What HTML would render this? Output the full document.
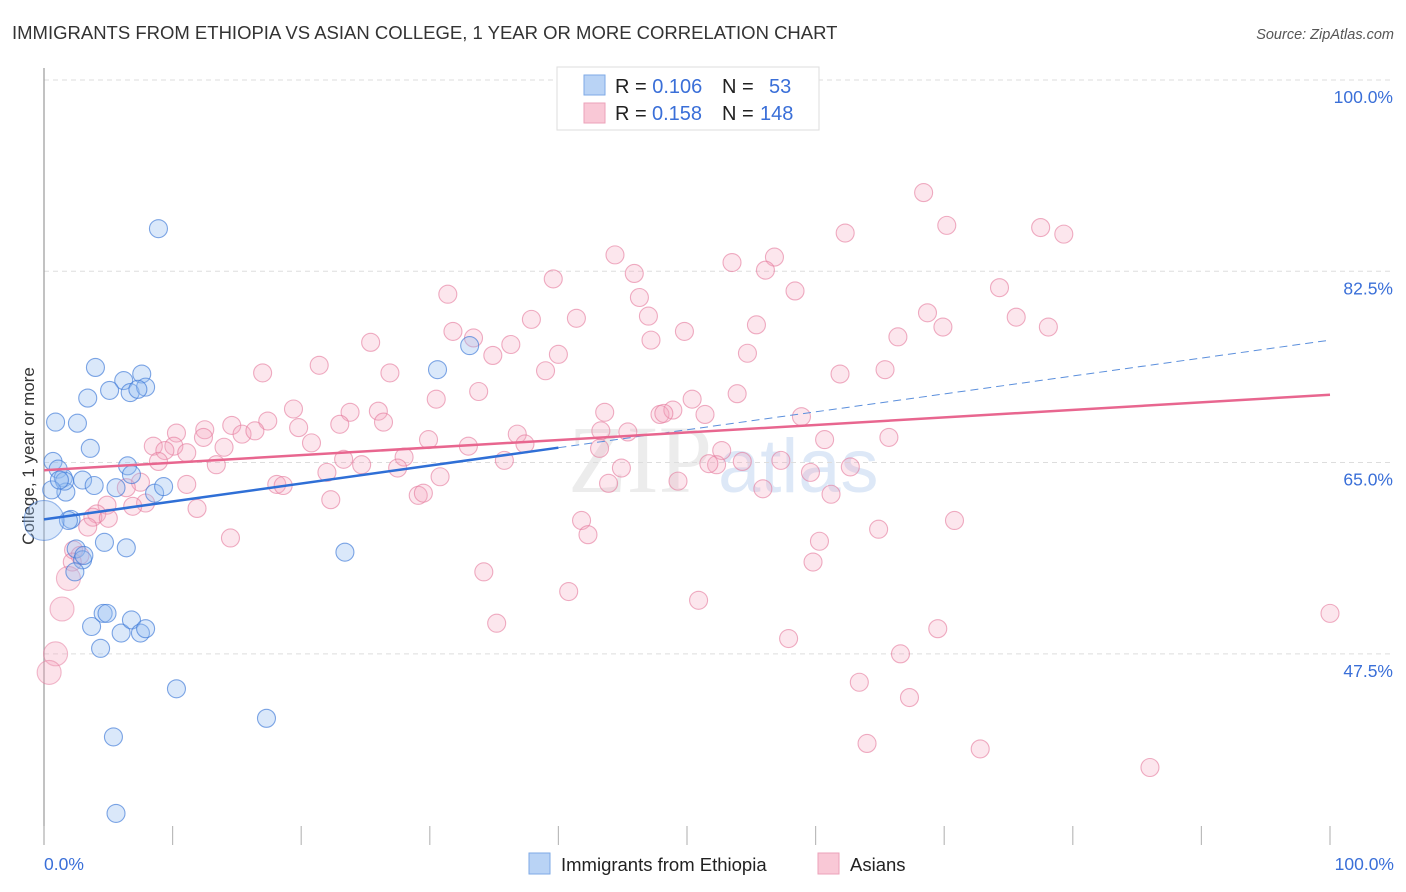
<!DOCTYPE html>
<html><head><meta charset="utf-8"><style>
body{margin:0;background:#fff;font-family:"Liberation Sans",sans-serif;}
#c{position:absolute;left:0;top:0;}
</style></head><body>
<svg id="c" width="1406" height="892">
<text x="12" y="39" font-size="18.5" fill="#333">IMMIGRANTS FROM ETHIOPIA VS ASIAN COLLEGE, 1 YEAR OR MORE CORRELATION CHART</text>
<text x="1394" y="39" font-size="14.5" fill="#555" font-style="italic" text-anchor="end">Source: ZipAtlas.com</text>
<text x="712" y="492" font-size="96" fill="#ececec" text-anchor="end" font-family="Liberation Serif">ZIP</text>
<text x="718" y="492" font-size="76" fill="#dde8f7">atlas</text>
<g id="grid"></g>
<line x1="44" y1="68" x2="44" y2="845" stroke="#999" stroke-width="1.2"/>
<g id="xt"></g>
<text transform="translate(34,456) rotate(-90)" font-size="17" fill="#333" text-anchor="middle">College, 1 year or more</text>
<text x="44" y="870" font-size="17.5" fill="#3a6fd8">0.0%</text>
<text x="1394" y="870" font-size="17.5" fill="#3a6fd8" text-anchor="end">100.0%</text>
<g id="pts"></g>
<g id="lines"></g>
<g>
<rect x="557" y="67" width="262" height="63" fill="#fff" stroke="#ddd"/>
<rect x="584" y="75" width="21" height="20" fill="#b9d3f5" stroke="#7ea9e6"/>
<rect x="584" y="103" width="21" height="20" fill="#f9c8d6" stroke="#eca2b9"/>
<text x="615" y="93" font-size="20" fill="#222">R = <tspan fill="#3a6fd8">0.106</tspan><tspan x="722">N = </tspan><tspan x="769" fill="#3a6fd8">53</tspan></text>
<text x="615" y="120" font-size="20" fill="#222">R = <tspan fill="#3a6fd8" x="652">0.158</tspan><tspan x="722">N = </tspan><tspan x="760" fill="#3a6fd8">148</tspan></text>
</g>
<g>
<rect x="529" y="853" width="21" height="21" fill="#b9d3f5" stroke="#7ea9e6"/>
<text x="561" y="871" font-size="18.5" fill="#222">Immigrants from Ethiopia</text>
<rect x="818" y="853" width="21" height="21" fill="#f9c8d6" stroke="#eca2b9"/>
<text x="850" y="871" font-size="18.5" fill="#222">Asians</text>
</g>
</svg>
<script>
const yTicks=[100,82.5,65,47.5];
const yTickLabels=["100.0%","82.5%","65.0%","47.5%"];
const xTicks=[0,10,20,30,40,50,60,70,80,90,100];
const blueX=[8.9,0.9,4.0,3.4,2.6,3.6,6.2,5.1,7.6,6.7,7.9,7.3,0.7,1.1,1.5,1.7,1.6,3.0,3.9,5.6,6.5,6.8,8.6,9.3,2.1,1.9,2.5,3.0,3.1,4.7,6.4,3.7,4.6,4.9,6.0,6.8,7.5,7.9,4.4,10.3,17.3,5.4,5.6,23.4,30.6,33.1,0.6,1.2,2.4];
const blueY=[86.4,68.7,73.7,70.9,68.6,66.3,72.5,71.6,73.1,71.4,71.9,71.7,65.1,64.4,63.6,62.3,63.3,63.4,62.9,62.7,64.7,63.9,62.2,62.8,59.8,59.7,57.1,56.1,56.5,57.7,57.2,50.0,51.2,51.2,49.4,50.6,49.4,49.8,48.0,44.3,41.6,39.9,32.9,56.8,73.5,75.7,62.5,63.4,55.0];
const blueBigX=[0];
const blueBigY=[59.7];
const pinkX=[68.4,70.2,62.3,77.5,79.3,44.4,56.8,53.5,56.1,45.9,39.6,58.4,74.3,31.4,46.3,68.7,75.6,41.4,37.9,78.1,69.9,47.0,55.4,31.8,33.4,49.8,25.4,36.3,47.2,66.4,21.4,34.9,40.0,54.7,17.0,26.9,39.0,61.9,65.4,50.4,53.9,30.5,33.8,19.4,23.8,26.0,43.6,47.9,48.9,51.4,58.9,14.6,17.4,15.4,16.4,19.8,23.0,26.4,12.5,10.3,10.1,8.5,9.4,11.1,12.4,14.0,20.8,29.9,33.0,36.8,37.4,43.3,45.4,48.2,60.7,65.7,52.7,54.3,52.3,51.7,57.3,59.6,44.9,43.2,28.0,23.3,24.7,22.0,27.5,13.4,8.9,18.1,18.6,30.8,35.8,62.7,49.3,43.9,55.9,61.2,7.9,6.9,29.1,29.5,22.3,11.9,11.1,7.5,6.4,4.9,4.1,3.8,5.0,3.4,14.5,41.8,42.3,64.9,70.8,60.3,59.8,34.2,2.3,2.8,2.2,40.8,50.9,35.2,100,69.5,57.9,66.6,63.4,67.3,64.0,72.8,86.0];
const pinkY=[89.7,86.7,86.0,86.5,85.9,84.0,83.8,83.3,82.6,82.3,81.8,80.7,81.0,80.4,80.1,78.7,78.3,78.2,78.1,77.4,77.4,78.4,77.6,77.0,76.4,77.0,76.0,75.8,76.2,76.5,73.9,74.8,74.9,75.0,73.2,73.2,73.4,73.1,73.5,70.8,71.3,70.8,71.5,69.9,69.6,69.7,69.6,69.4,69.8,69.4,69.2,68.4,68.8,67.6,67.9,68.2,68.5,68.7,68.0,67.7,66.5,66.5,66.1,65.9,67.3,66.4,66.8,67.1,66.5,67.6,66.7,67.9,67.8,69.5,67.1,67.3,66.1,65.1,64.8,64.9,65.2,64.1,64.5,66.3,65.5,65.3,64.8,64.1,64.5,64.8,65.1,63.0,62.9,63.7,65.2,64.6,63.3,63.1,62.6,62.1,61.3,61.0,62.0,62.2,61.6,60.8,63.0,63.2,62.7,61.1,60.3,60.0,59.9,59.1,58.1,59.7,58.4,58.9,59.7,57.8,55.9,55.0,57.0,56.5,55.9,53.2,52.4,50.3,51.2,49.8,48.9,47.5,44.9,43.5,39.3,38.8,37.1];
const pinkBigX=[1.9,1.4,0.9,0.4];
const pinkBigY=[54.4,51.6,47.5,45.8];
const blueTrend=[59.8,76.2];
const pinkTrend=[64.3,71.2];
const blueSolidEnd=40;

const NS="http://www.w3.org/2000/svg";
const xs=v=>44+v*12.86;
const ys=v=>80+(100-v)*10.93;
function mk(t,a,parent){const e=document.createElementNS(NS,t);for(const k in a)e.setAttribute(k,a[k]);parent.appendChild(e);return e;}
const grid=document.getElementById('grid');
yTicks.forEach((t,i)=>{
  const l=mk('line',{x1:44,x2:1394,y1:ys(t),y2:ys(t),stroke:'#ddd','stroke-dasharray':'5,4'},grid);
  
  
  const tx=mk('text',{x:1393,y:ys(t)+23,'font-size':17.5,fill:'#3a6fd8','text-anchor':'end'},grid);
  tx.textContent=yTickLabels[i];
  
  
});
const xt=document.getElementById('xt');
xTicks.forEach(t=>{
  const l=mk('line',{x1:xs(t),x2:xs(t),y1:826,y2:845,stroke:'#bbb','stroke-width':1.2},xt);
  
  
});
const pts=document.getElementById('pts');
function draw(X,Y,r,fill,stroke,name){
  X.forEach((x,i)=>{
    const c=mk('circle',{cx:xs(x),cy:ys(Y[i]),r:r,fill:fill,stroke:stroke,'stroke-width':1.1},pts);
    
    
  });
}
draw(pinkX,pinkY,9,'rgba(245,165,190,0.28)','rgba(228,120,155,0.6)','asians-point');
draw(pinkBigX,pinkBigY,12,'rgba(245,165,190,0.32)','rgba(228,120,155,0.5)','asians-point-large');
draw(blueX,blueY,9,'rgba(150,190,240,0.35)','rgba(60,120,215,0.65)','ethiopia-point');
draw(blueBigX,blueBigY,20,'rgba(150,190,240,0.35)','rgba(60,120,215,0.5)','ethiopia-point-large');
const lines=document.getElementById('lines');
const bAt=x=>blueTrend[0]+(blueTrend[1]-blueTrend[0])*x/100;
let l=mk('line',{x1:xs(0),y1:ys(blueTrend[0]),x2:xs(blueSolidEnd),y2:ys(bAt(blueSolidEnd)),stroke:'#2f6fd6','stroke-width':2.5},lines);


l=mk('line',{x1:xs(blueSolidEnd),y1:ys(bAt(blueSolidEnd)),x2:xs(100),y2:ys(blueTrend[1]),stroke:'#5b8fdc','stroke-width':1,'stroke-dasharray':'8,5'},lines);


l=mk('line',{x1:xs(0),y1:ys(pinkTrend[0]),x2:xs(100),y2:ys(pinkTrend[1]),stroke:'#e8668f','stroke-width':2.5},lines);


</script>
</body></html>
